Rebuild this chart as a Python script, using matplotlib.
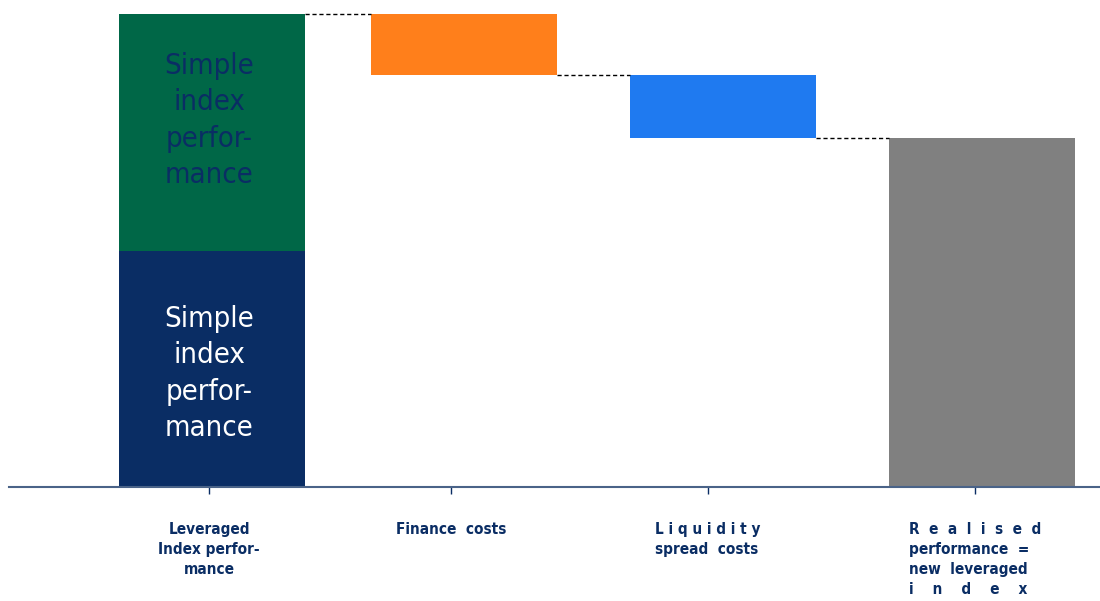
import matplotlib.pyplot as plt

# data (units: simple index performance = 1)
labels = ['Leveraged\nIndex perfor-\nmance', 'Finance  costs',
          'L i q u i d i t y\nspread  costs',
          'R  e  a  l  i  s  e  d\nperformance  =\nnew  leveraged\ni    n    d    e    x']
simple_perf = 1.0
leveraged_perf = 2.0
finance_cost = 0.26
liquidity_cost = 0.265
realised = leveraged_perf - finance_cost - liquidity_cost

navy = '#0a2d64'
green = '#006747'
orange = '#ff7f1b'
blue = '#1f7af0'
grey = '#808080'

fig = plt.figure(figsize=(11, 6.01), dpi=100)
ax = fig.add_axes([9 / 1100, 114 / 601, 1091 / 1100, 487 / 601])

# layout in pixel-like x units
bar_x = [212, 464, 723, 982]
tick_x = [209, 451, 708, 975]
w = 186

ax.bar(bar_x[0], simple_perf, w, color=navy)
ax.bar(bar_x[0], leveraged_perf - simple_perf, w, bottom=simple_perf, color=green)
ax.bar(bar_x[1], finance_cost, w, bottom=leveraged_perf - finance_cost, color=orange)
lvl2 = leveraged_perf - finance_cost
ax.bar(bar_x[2], liquidity_cost, w, bottom=lvl2 - liquidity_cost, color=blue)
ax.bar(bar_x[3], realised, w, color=grey)

# connectors
levels = [leveraged_perf, lvl2, realised]
for i, lv in enumerate(levels):
    ax.plot([bar_x[i] + w / 2, bar_x[i + 1] - w / 2], [lv, lv],
            color='black', ls=(0, (3, 2)), lw=1)

txt = 'Simple\nindex\nperfor-\nmance'
ax.text(bar_x[0] - 3, simple_perf + 0.55, txt, ha='center', va='center',
        color=navy, fontsize=21, fontstretch='condensed', linespacing=1.38)
ax.text(bar_x[0] - 3, simple_perf / 2 - 0.02, txt, ha='center', va='center',
        color='white', fontsize=21, fontstretch='condensed', linespacing=1.38)

ax.set_xlim(9, 1100)
ax.set_ylim(0, 487 / 236.5)
ax.set_xticks(tick_x)
ax.set_xticklabels(labels, fontsize=11, fontweight='bold', color=navy,
                   fontstretch='condensed', linespacing=1.42)
for i, t in enumerate(ax.get_xticklabels()):
    t.set_multialignment('center' if i == 0 else 'left')
ax.tick_params(axis='x', direction='out', length=5, width=1, color=navy, pad=20)
ax.set_yticks([])
for s in ['top', 'right', 'left']:
    ax.spines[s].set_visible(False)
ax.spines['bottom'].set_color('#4a6388')
ax.spines['bottom'].set_linewidth(1.5)

fig.savefig('out.png', dpi=100)
